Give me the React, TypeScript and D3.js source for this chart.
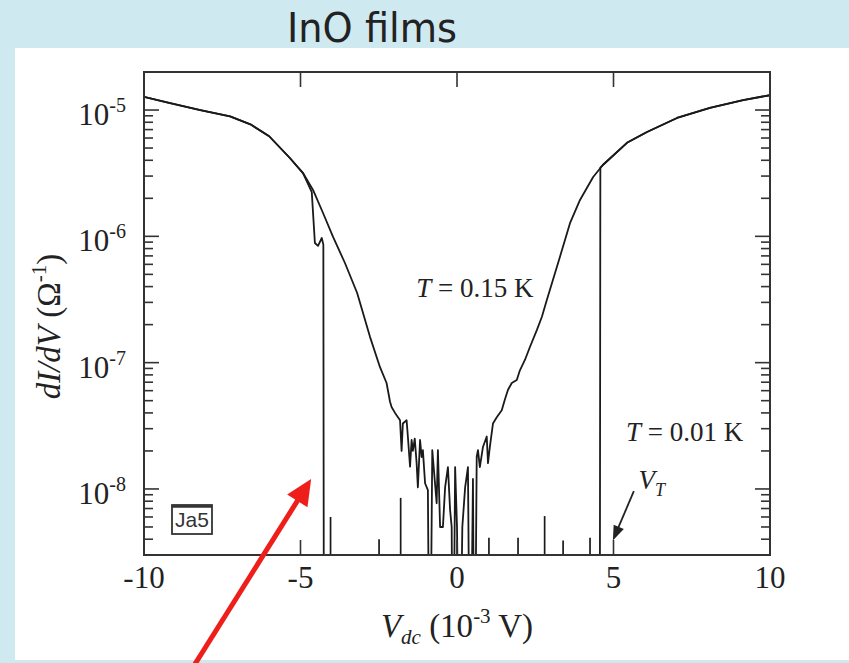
import React, { useEffect, useRef } from "react";
import * as d3 from "d3";

// conductance below the plotted floor (drawn off the bottom, clipped)
const ZERO = 1e-10;

// T = 0.15 K trace: bias (mV) and dI/dV (1/Ohm)
const vHot = [-10, -9.2, -8.2, -7.25, -6.6, -6.0, -5.34, -4.92, -4.6, -4.28, -3.96, -3.58, -3.19, -2.78, -2.46, -2.25, -2.14, -2.09, -1.98, -1.82, -1.77, -1.73, -1.61, -1.57, -1.5, -1.45, -1.41, -1.35, -1.29, -1.25, -1.18, -1.13, -1.09, -1.02, -0.93, -0.87, -0.79, -0.65, -0.61, -0.54, -0.45, -0.38, -0.29, -0.22, -0.17, -0.13, -0.06, 0.0, 0.08, 0.17, 0.26, 0.35, 0.42, 0.51, 0.56, 0.63, 0.67, 0.73, 0.83, 0.95, 0.99, 1.05, 1.15, 1.27, 1.43, 1.53, 1.63, 1.75, 1.91, 2.01, 2.17, 2.33, 2.55, 2.71, 2.87, 3.29, 3.61, 3.93, 4.35, 4.66, 5.43, 6.07, 7.03, 8.08, 9.14, 10];
const gHot = [1.27e-5, 1.14e-5, 1.0e-5, 8.9e-6, 7.7e-6, 6.2e-6, 4.17e-6, 3.17e-6, 2.33e-6, 1.53e-6, 9.9e-7, 6.15e-7, 3.56e-7, 1.6e-7, 9.2e-8, 6.9e-8, 4.9e-8, 4.45e-8, 4.0e-8, 3.5e-8, 2.0e-8, 3.3e-8, 3.5e-8, 2.6e-8, 1.5e-8, 2.44e-8, 2.0e-8, 2.5e-8, 1.6e-8, 1.03e-8, 2.44e-8, 1.79e-8, 2.03e-8, 1.11e-8, 9.8e-9, ZERO, 2.03e-8, 7.7e-9, 2.03e-8, 5.0e-9, 5.0e-9, 1.03e-8, 1.49e-8, 6.8e-9, 5.0e-9, ZERO, 1.49e-8, 5.0e-9, ZERO, 5.0e-9, 1.03e-8, 1.49e-8, ZERO, 1.2e-8, ZERO, 1.8e-8, 2.03e-8, 1.49e-8, 2.15e-8, 2.6e-8, 1.6e-8, 2.15e-8, 3.3e-8, 3.7e-8, 4.2e-8, 5.1e-8, 6.1e-8, 6.9e-8, 7.3e-8, 8.7e-8, 1.05e-7, 1.33e-7, 1.81e-7, 2.3e-7, 3.13e-7, 6.9e-7, 1.27e-6, 1.94e-6, 2.95e-6, 3.67e-6, 5.5e-6, 6.7e-6, 8.65e-6, 1.04e-5, 1.2e-5, 1.31e-5];

// T = 0.01 K trace
const vCold = [-10, -9.2, -8.2, -7.25, -6.6, -6.0, -5.34, -4.92, -4.64, -4.54, -4.44, -4.32, -4.27, -4.25, 4.56, 4.58, 4.66, 5.43, 6.07, 7.03, 8.08, 9.14, 10];
const gCold = [1.27e-5, 1.14e-5, 1.0e-5, 8.9e-6, 7.7e-6, 6.2e-6, 4.17e-6, 3.17e-6, 2.24e-6, 8.85e-7, 8.4e-7, 9.7e-7, 8.6e-7, ZERO, ZERO, 3.5e-6, 3.67e-6, 5.5e-6, 6.7e-6, 8.65e-6, 1.04e-5, 1.2e-5, 1.31e-5];

// isolated spikes of the 0.01 K trace inside the gap
const spikeV = [-4.04, -2.49, -1.8, 1.02, 1.95, 2.8, 3.39, 4.25];
const spikeG = [6.0e-9, 4.0e-9, 8.5e-9, 4.1e-9, 4.1e-9, 6.1e-9, 3.9e-9, 4.1e-9];

const xTicks = [-10, -5, 0, 5, 10];

const serif = "'Liberation Serif', 'Times New Roman', serif";
const ink = "#222";

export default function App() {
  const ref = useRef<SVGSVGElement>(null);

  useEffect(() => {
    const width = 849;
    const height = 663;
    const margin = { top: 72, right: 79, bottom: 108, left: 144 };
    const svg = d3.select(ref.current);
    svg.selectAll("*").remove();

    const x = d3.scaleLinear().domain([-10, 10]).range([margin.left, width - margin.right]);
    const y = d3.scaleLog().domain([3e-9, 2e-5]).range([height - margin.bottom, margin.top]);
    const [x0, x1] = x.range();
    const [y0, y1] = y.range();

    // page background and white panel
    svg.append("rect").attr("width", width).attr("height", height).attr("fill", "#cfe9f0");
    svg.append("rect").attr("x", 15).attr("y", 48).attr("width", width - 15).attr("height", 612).attr("fill", "#fff");

    svg
      .append("text")
      .attr("x", 372)
      .attr("y", 42)
      .attr("text-anchor", "middle")
      .attr("font-family", "'DejaVu Sans Condensed', 'DejaVu Sans', sans-serif")
      .attr("font-size", 40)
      .attr("textLength", 170)
      .attr("lengthAdjust", "spacingAndGlyphs")
      .attr("fill", ink)
      .text("InO films");

    svg
      .append("clipPath")
      .attr("id", "plot-clip")
      .append("rect")
      .attr("x", x0)
      .attr("y", y1)
      .attr("width", x1 - x0)
      .attr("height", y0 - y1);

    const plot = svg.append("g").attr("clip-path", "url(#plot-clip)");

    const trace = (vs: number[], gs: number[]) =>
      d3
        .line<number>()
        .x((d) => x(d))
        .y((d, i) => y(gs[i]))(vs);

    plot
      .append("path")
      .attr("d", trace(vHot, gHot))
      .attr("fill", "none")
      .attr("stroke", "#1a1a1a")
      .attr("stroke-width", 1.8)
      .attr("stroke-linejoin", "round");

    plot
      .append("path")
      .attr("d", trace(vCold, gCold))
      .attr("fill", "none")
      .attr("stroke", "#1a1a1a")
      .attr("stroke-width", 1.8)
      .attr("stroke-linejoin", "round");

    plot
      .selectAll("line.spike")
      .data(spikeV)
      .join("line")
      .attr("class", "spike")
      .attr("x1", (d) => x(d))
      .attr("x2", (d) => x(d))
      .attr("y1", y0)
      .attr("y2", (d, i) => y(spikeG[i]))
      .attr("stroke", "#1a1a1a")
      .attr("stroke-width", 1.7);

    // frame
    svg
      .append("rect")
      .attr("x", x0)
      .attr("y", y1)
      .attr("width", x1 - x0)
      .attr("height", y0 - y1)
      .attr("fill", "none")
      .attr("stroke", "#333")
      .attr("stroke-width", 2);

    // log ticks on left and right, pointing inward
    const yt = y.ticks();
    const isMajor = (d: number) => Math.abs(Math.log10(d) - Math.round(Math.log10(d))) < 1e-6;
    const axes = svg.append("g").attr("stroke", "#333").attr("stroke-width", 1.6);
    axes
      .selectAll("line.yl")
      .data(yt)
      .join("line")
      .attr("x1", x0)
      .attr("x2", (d) => x0 + (isMajor(d) ? 15 : 9))
      .attr("y1", (d) => y(d))
      .attr("y2", (d) => y(d));
    axes
      .selectAll("line.yr")
      .data(yt)
      .join("line")
      .attr("x1", x1)
      .attr("x2", (d) => x1 - (isMajor(d) ? 15 : 9))
      .attr("y1", (d) => y(d))
      .attr("y2", (d) => y(d));
    const inner = xTicks.slice(1, -1);
    axes
      .selectAll("line.xb")
      .data(inner)
      .join("line")
      .attr("x1", (d) => x(d))
      .attr("x2", (d) => x(d))
      .attr("y1", y0)
      .attr("y2", y0 - 15);
    axes
      .selectAll("line.xt")
      .data(inner)
      .join("line")
      .attr("x1", (d) => x(d))
      .attr("x2", (d) => x(d))
      .attr("y1", y1)
      .attr("y2", y1 + 15);

    // y tick labels 10^n
    const ylab = svg
      .append("g")
      .selectAll("text")
      .data(yt.filter(isMajor))
      .join("text")
      .attr("x", x0 - 18)
      .attr("y", (d) => y(d) + 15)
      .attr("text-anchor", "end")
      .attr("font-family", serif)
      .attr("font-size", 31)
      .attr("fill", ink);
    ylab.append("tspan").text("10");
    ylab
      .append("tspan")
      .attr("font-size", 20)
      .attr("dy", -13)
      .text((d) => String(Math.round(Math.log10(d))));

    // x tick labels
    svg
      .append("g")
      .selectAll("text")
      .data(xTicks)
      .join("text")
      .attr("x", (d) => x(d))
      .attr("y", y0 + 33)
      .attr("text-anchor", "middle")
      .attr("font-family", serif)
      .attr("font-size", 31)
      .attr("fill", ink)
      .text((d) => String(d));

    // x axis title
    const xt = svg
      .append("text")
      .attr("x", (x0 + x1) / 2)
      .attr("y", 637)
      .attr("text-anchor", "middle")
      .attr("font-family", serif)
      .attr("font-size", 33)
      .attr("fill", ink);
    xt.append("tspan").attr("font-style", "italic").text("V");
    xt.append("tspan").attr("font-style", "italic").attr("font-size", 21).attr("dy", 7).text("dc");
    xt.append("tspan").attr("dy", -7).text(" (10");
    xt.append("tspan").attr("font-size", 21).attr("dy", -14).text("-3");
    xt.append("tspan").attr("dy", 14).text(" V)");

    // y axis title
    const ytitle = svg
      .append("text")
      .attr("transform", `translate(60,${(y0 + y1) / 2 + 13}) rotate(-90)`)
      .attr("text-anchor", "middle")
      .attr("font-family", serif)
      .attr("font-size", 33)
      .attr("fill", ink);
    ytitle.append("tspan").attr("font-style", "italic").text("dI/dV");
    ytitle.append("tspan").text(" (\u03A9");
    ytitle.append("tspan").attr("font-size", 21).attr("dy", -14).text("-1");
    ytitle.append("tspan").attr("dy", 14).text(")");

    // temperature labels
    const tLabel = (vx: number, gy: number, value: string) => {
      const t = svg
        .append("text")
        .attr("x", x(vx))
        .attr("y", y(gy))
        .attr("font-family", serif)
        .attr("font-size", 27)
        .attr("fill", ink);
      t.append("tspan").attr("font-style", "italic").text("T");
      t.append("tspan").text(` = ${value} K`);
    };
    tLabel(-1.3, 3.3e-7, "0.15");
    tLabel(5.4, 2.4e-8, "0.01");

    // V_T label with arrow
    const vt = svg
      .append("text")
      .attr("x", x(5.8))
      .attr("y", y(1.0e-8))
      .attr("font-family", serif)
      .attr("font-size", 27)
      .attr("fill", ink);
    vt.append("tspan").attr("font-style", "italic").text("V");
    vt.append("tspan").attr("font-style", "italic").attr("font-size", 18).attr("dy", 7).text("T");

    const arrowHead = (tx: number, ty: number, fx: number, fy: number, len: number, half: number) => {
      const dx = tx - fx;
      const dy = ty - fy;
      const n = Math.hypot(dx, dy);
      const ux = dx / n;
      const uy = dy / n;
      const bx = tx - ux * len;
      const by = ty - uy * len;
      return `M${tx},${ty}L${bx - uy * half},${by + ux * half}L${bx + uy * half},${by - ux * half}Z`;
    };

    const vtFrom = [x(5.65), y(9.6e-9)];
    const vtTo = [x(4.98), y(3.9e-9)];
    svg
      .append("line")
      .attr("x1", vtFrom[0])
      .attr("y1", vtFrom[1])
      .attr("x2", vtTo[0] + 2)
      .attr("y2", vtTo[1] - 5)
      .attr("stroke", ink)
      .attr("stroke-width", 1.8);
    svg.append("path").attr("d", arrowHead(vtTo[0], vtTo[1], vtFrom[0], vtFrom[1], 15, 5.5)).attr("fill", ink);

    // sample tag
    const tag = svg.append("g");
    tag
      .append("rect")
      .attr("x", 172)
      .attr("y", 505)
      .attr("width", 40)
      .attr("height", 29)
      .attr("fill", "#fff")
      .attr("stroke", "#333")
      .attr("stroke-width", 1.8);
    tag.append("line").attr("x1", 172).attr("x2", 212).attr("y1", 506.5).attr("y2", 506.5).attr("stroke", "#333").attr("stroke-width", 2.5);
    tag
      .append("text")
      .attr("x", 192)
      .attr("y", 527)
      .attr("text-anchor", "middle")
      .attr("font-family", "'Liberation Sans', Arial, sans-serif")
      .attr("font-size", 21)
      .attr("fill", "#333")
      .text("Ja5");

    // red pointer arrow
    const rFrom = [x(-8.45), 668];
    const rTo = [x(-4.66), y(1.2e-8)];
    svg
      .append("line")
      .attr("x1", rFrom[0])
      .attr("y1", rFrom[1])
      .attr("x2", rTo[0] - (rTo[0] - rFrom[0]) * 0.08)
      .attr("y2", rTo[1] - (rTo[1] - rFrom[1]) * 0.08)
      .attr("stroke", "#ee1f1a")
      .attr("stroke-width", 5);
    svg.append("path").attr("d", arrowHead(rTo[0], rTo[1], rFrom[0], rFrom[1], 26, 12)).attr("fill", "#ee1f1a");
  }, []);

  return (
    <div style={{ position: "absolute", left: 0, top: 0 }}>
      <svg ref={ref} width={849} height={663} />
    </div>
  );
}
